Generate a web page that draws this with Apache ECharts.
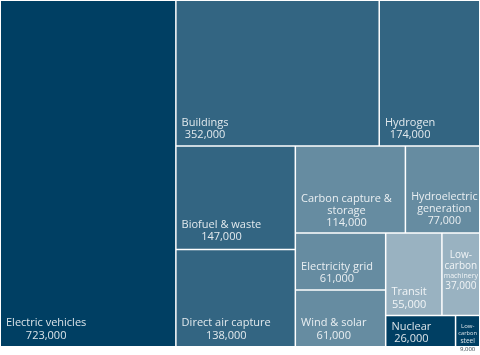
<!DOCTYPE html>
<html><head><meta charset="utf-8">
<script src="https://cdn.jsdelivr.net/npm/echarts@6/dist/echarts.min.js"></script>
<style>html,body{margin:0;padding:0;background:#fff}#c{width:480px;height:355px}</style>
</head><body><div id="c"></div>
<script>
// ---- data ----
const names = ['Electric vehicles','Buildings','Hydrogen','Biofuel & waste','Direct air capture',
  'Carbon capture & storage','Hydroelectric generation','Electricity grid','Wind & solar',
  'Transit','Low-carbon machinery','Nuclear','Low-carbon steel'];
const values = [723000,352000,174000,147000,138000,114000,77000,61000,61000,55000,37000,26000,9000];
const labelLines = ['Electric vehicles','Buildings','Hydrogen','Biofuel & waste','Direct air capture',
  'Carbon capture &\nstorage','Hydroelectric\ngeneration','Electricity grid','Wind & solar',
  'Transit','Low-\ncarbon\nmachinery','Nuclear','Low-\ncarbon\nsteel'];
// tiles sharing a sub-block (layout grouping)
const subBlock = [null,null,null,null,null,null,null,null,null,'g1','g1',null,null];

// ---- style ----
const FONT = '"Open Sans", sans-serif';
const TEXT = 'rgba(255,255,255,0.86)';
const shade = ['#003f63','#336582','#668ca1','#99b2c1'];
const tileShade = [0,1,1,1,1,2,2,2,2,3,3,0,0];
const lineSizes = {6:[10.7,10.7,10.7], 10:[10,10,7,10], 12:[6,5.7,6.5,6]};
const lineHeights = {5:[12,12,12], 6:[12,12,12], 10:[11,10,9.5,12], 12:[7,7.2,7.6,9.6]};
const lineColors = {12:[null,null,null,'#2e3d48']};
const labelMode = {10:'middle', 12:'top'};
const labelLift = {3:1.5, 6:1.5, 11:-3.6};
const labelPad = {10:[0,0,0,0], 11:[0,5,0,5], 12:[0,0,-12,0]};
const PAD = 5, BOTTOM_GAP = 4;

const mctx = document.createElement('canvas').getContext('2d');
function textW(t, size){ mctx.font = size + 'px ' + FONT; return mctx.measureText(t).width; }

const rich = {};
const labelText = {};
const labelInfo = {};
names.forEach((nm, i) => {
  const lines = labelLines[i].split('\n').concat([values[i].toLocaleString('en-US')]);
  const sizes = lines.map((_, k) => lineSizes[i] ? lineSizes[i][k] : 11);
  const lhs = lines.map((_, k) => lineHeights[i] ? lineHeights[i][k] : 12.5);
  const widths = lines.map((l, k) => textW(l, sizes[k]));
  const maxW = Math.max.apply(null, widths);
  const txt = lines.map((l, k) => {
    const key = 't' + i + '_' + k;
    const col = (lineColors[i] && lineColors[i][k]) || TEXT;
    rich[key] = {fontSize: sizes[k], fontFamily: FONT, color: col, lineHeight: lhs[k]};
    let s = '';
    const pad = (maxW - widths[k]) / 2;
    if (pad > 0.5) {
      rich['p' + key] = {width: pad, fontSize: sizes[k], fontFamily: FONT, lineHeight: lhs[k]};
      s = '{p' + key + '| }';
    }
    return s + '{' + key + '|' + l + '}';
  }).join('\n');
  labelText[nm] = txt;
  const padArr = labelPad[i] || [PAD, PAD, PAD, PAD];
  labelInfo[txt] = {i: i, maxW: maxW, blockH: lhs.reduce((a, b) => a + b, 0), padTop: padArr[0]};
});

function leaf(i) {
  const item = {name: names[i], value: values[i], itemStyle: {color: shade[tileShade[i]]}};
  if (labelPad[i]) item.label = {padding: labelPad[i]};
  return item;
}
const seriesData = [];
const groups = {};
names.forEach((nm, i) => {
  const g = subBlock[i];
  if (!g) { seriesData.push(leaf(i)); return; }
  if (!groups[g]) {
    groups[g] = {name: g, children: [], itemStyle: {borderWidth: 0, borderColor: '#fff'}, label: {show: false}};
    seriesData.push(groups[g]);
  }
  groups[g].children.push(leaf(i));
});

const BORDER = 0.75;
const chart = echarts.init(document.getElementById('c'), null, {renderer: 'canvas'});
chart.setOption({
  animation: false,
  tooltip: {show: false},
  series: [{
    type: 'treemap',
    left: 0.25, top: 0.25, width: 479.5, height: 346.5,
    roam: false, nodeClick: false,
    breadcrumb: {show: false},
    sort: false,
    squareRatio: 1,
    visibleMin: 0,
    label: {
      show: true, position: 'insideBottomLeft', distance: 0, padding: PAD,
      overflow: 'none',
      fontFamily: FONT, fontSize: 11, color: TEXT,
      formatter: p => labelText[p.name] || '',
      rich: rich
    },
    labelLayout: function (p) {
      const info = labelInfo[p.text];
      if (!info) return {};
      const r = p.rect;
      const mode = labelMode[info.i];
      if (mode === 'middle') {
        return {x: r.x + (r.width - info.maxW) / 2, y: r.y + 16, align: 'left', verticalAlign: 'top'};
      }
      if (mode === 'top') {
        return {x: r.x + (r.width - info.maxW) / 2, y: r.y + 6.5, align: 'left', verticalAlign: 'top'};
      }
      return {
        x: r.x, y: r.y + r.height - BOTTOM_GAP - info.blockH - info.padTop - (labelLift[info.i] || 0),
        align: 'left', verticalAlign: 'top'
      };
    },
    upperLabel: {show: false},
    itemStyle: {borderWidth: BORDER, borderColor: '#fff', gapWidth: 0},
    levels: [
      {itemStyle: {borderWidth: 0, gapWidth: 0, borderColor: '#fff'}},
      {itemStyle: {borderWidth: BORDER, gapWidth: 0, borderColor: '#fff'}},
      {itemStyle: {borderWidth: BORDER, gapWidth: 0, borderColor: '#fff'}}
    ],
    data: seriesData
  }]
});
</script></body></html>
